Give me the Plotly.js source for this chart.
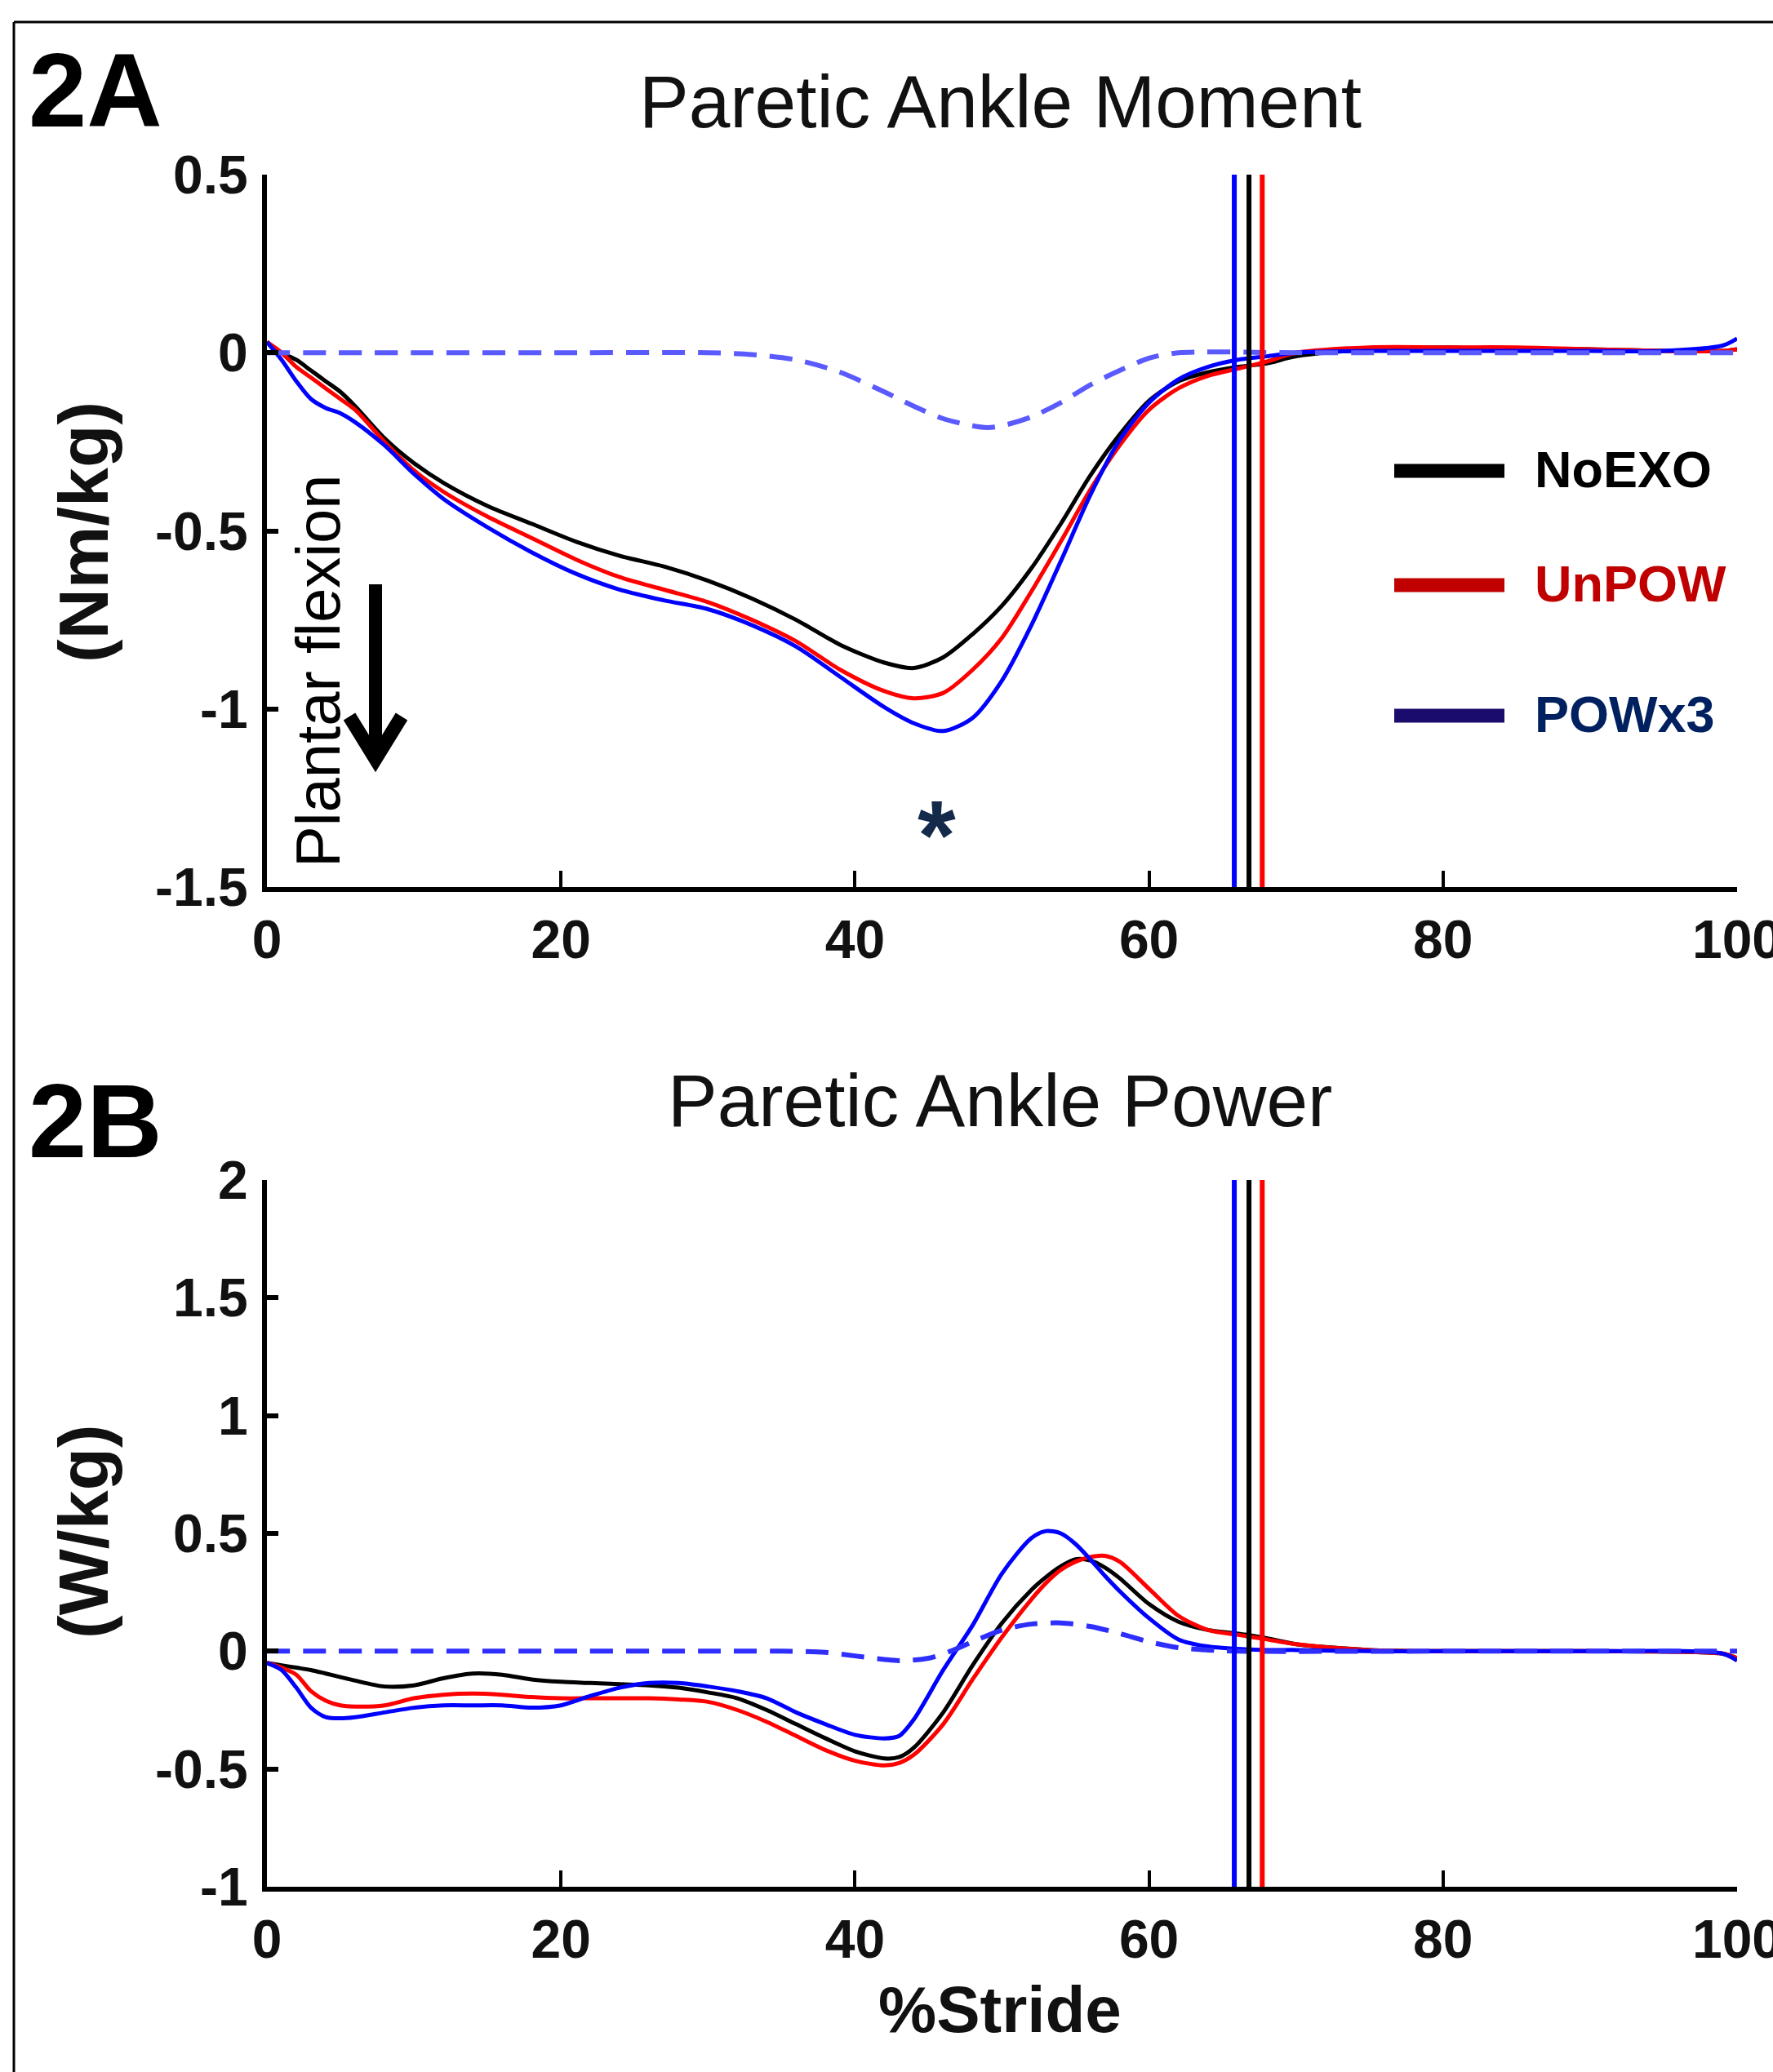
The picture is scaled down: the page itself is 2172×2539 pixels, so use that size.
<!DOCTYPE html>
<html>
<head>
<meta charset="utf-8">
<script src="https://cdn.plot.ly/plotly-3.0.1.min.js"></script>
<style>html,body{margin:0;padding:0;background:#fff;}#chart{width:2172px;height:2539px;}</style>
</head>
<body>
<div id="chart"></div>
<script>
// ---------- DATA ----------
// Panel 2A: Paretic ankle moment (Nm/kg) vs % stride
const pctMoment = [0, 1, 2, 3, 4, 5, 6, 8, 10, 12, 15, 18, 21, 24, 27, 30, 33, 36, 39, 42, 44, 46, 48, 50, 52, 54, 56, 58, 60, 62, 64, 66, 68, 70, 75, 80, 85, 90, 95, 99, 100];
const momentNoEXO = [0.03, 0.0, -0.02, -0.05, -0.08, -0.11, -0.15, -0.24, -0.31, -0.365, -0.43, -0.48, -0.53, -0.57, -0.60, -0.64, -0.69, -0.75, -0.82, -0.87, -0.885, -0.855, -0.79, -0.71, -0.605, -0.48, -0.345, -0.23, -0.135, -0.08, -0.055, -0.04, -0.03, -0.01, 0.01, 0.015, 0.01, 0.01, 0.005, 0.005, 0.01];
const momentUnPOW = [0.03, 0.0, -0.04, -0.07, -0.10, -0.13, -0.16, -0.25, -0.33, -0.39, -0.46, -0.52, -0.58, -0.63, -0.665, -0.70, -0.75, -0.81, -0.89, -0.95, -0.97, -0.955, -0.89, -0.80, -0.67, -0.53, -0.385, -0.26, -0.16, -0.10, -0.065, -0.045, -0.025, 0.0, 0.015, 0.015, 0.015, 0.01, 0.005, 0.005, 0.01];
const momentPOWx3 = [0.03, -0.02, -0.08, -0.13, -0.155, -0.17, -0.195, -0.26, -0.34, -0.41, -0.49, -0.56, -0.62, -0.665, -0.695, -0.72, -0.765, -0.825, -0.91, -0.995, -1.04, -1.062, -1.025, -0.92, -0.765, -0.585, -0.40, -0.245, -0.14, -0.075, -0.04, -0.02, -0.01, 0.0, 0.005, 0.005, 0.005, 0.005, 0.005, 0.02, 0.04];
const pctExoMoment = [0, 10, 20, 30, 33, 36, 39, 42, 44, 46, 48, 49, 50, 52, 54, 56, 58, 60, 62, 70, 80, 90, 100];
const exoMomentPOWx3 = [0.0, 0.0, 0.0, 0.0, -0.005, -0.02, -0.055, -0.11, -0.15, -0.185, -0.205, -0.21, -0.205, -0.18, -0.14, -0.09, -0.05, -0.015, 0.0, 0.0, 0.0, 0.0, 0.0];

// Panel 2B: Paretic ankle power (W/kg) vs % stride
const pctPower = [0, 1, 2, 3, 4, 5, 6, 8, 10, 12, 14, 16, 18, 20, 22, 24, 26, 28, 30, 32, 34, 36, 38, 40, 42, 43, 44, 46, 48, 50, 52, 53, 54, 55, 56, 57, 58, 60, 62, 64, 66, 68, 70, 75, 80, 90, 99, 100];
const powerNoEXO = [-0.05, -0.06, -0.07, -0.08, -0.095, -0.11, -0.125, -0.15, -0.145, -0.115, -0.095, -0.10, -0.12, -0.13, -0.135, -0.14, -0.145, -0.155, -0.175, -0.20, -0.25, -0.31, -0.37, -0.425, -0.455, -0.45, -0.41, -0.26, -0.06, 0.12, 0.26, 0.315, 0.36, 0.39, 0.385, 0.355, 0.31, 0.20, 0.125, 0.09, 0.075, 0.055, 0.03, 0.005, 0.0, 0.0, -0.01, -0.03];
const powerUnPOW = [-0.05, -0.07, -0.10, -0.17, -0.21, -0.23, -0.235, -0.23, -0.20, -0.185, -0.18, -0.185, -0.195, -0.20, -0.20, -0.20, -0.20, -0.205, -0.215, -0.25, -0.30, -0.36, -0.42, -0.465, -0.485, -0.475, -0.44, -0.31, -0.12, 0.06, 0.22, 0.29, 0.345, 0.38, 0.40, 0.405, 0.38, 0.265, 0.15, 0.09, 0.07, 0.05, 0.03, 0.005, 0.0, 0.0, -0.01, -0.03];
const powerPOWx3 = [-0.05, -0.08, -0.155, -0.24, -0.28, -0.285, -0.28, -0.26, -0.24, -0.23, -0.23, -0.23, -0.24, -0.23, -0.19, -0.155, -0.135, -0.135, -0.15, -0.17, -0.20, -0.26, -0.31, -0.355, -0.37, -0.36, -0.29, -0.08, 0.11, 0.33, 0.48, 0.51, 0.50, 0.455, 0.39, 0.32, 0.255, 0.14, 0.05, 0.02, 0.01, 0.005, 0.005, 0.0, 0.0, 0.0, -0.01, -0.04];
const pctExoPower = [0, 10, 20, 30, 35, 38, 40, 42, 43, 45, 46.5, 48, 50, 52, 54, 56, 58, 60, 62, 64, 66, 80, 100];
const exoPowerPOWx3 = [0.0, 0.0, 0.0, 0.0, 0.0, -0.005, -0.02, -0.035, -0.04, -0.03, 0.0, 0.04, 0.09, 0.115, 0.12, 0.105, 0.075, 0.04, 0.015, 0.005, 0.0, 0.0, 0.0];

// Toe-off (% stride) vertical markers
const toeOffConditions = ['POWx3', 'NoEXO', 'UnPOW'];
const toeOffPct = [65.8, 66.8, 67.7];

// Legend / tick labels
const legendNames = ['NoEXO', 'UnPOW', 'POWx3'];
const xTicks = [0, 20, 40, 60, 80, 100];
const momentTicks = [0.5, 0, -0.5, -1, -1.5];
const momentTickText = ['0.5', '0', '-0.5', '-1', '-1.5'];
const powerTicks = [2, 1.5, 1, 0.5, 0, -0.5, -1];
const powerTickText = ['2', '1.5', '1', '0.5', '0', '-0.5', '-1'];

// ---------- LAYOUT HELPERS ----------
const W = 2172, H = 2539;
const px = x => x / W;
const py = y => 1 - y / H;
const FONT = 'Liberation Sans, Arial, Helvetica, sans-serif';

const lineColors = {NoEXO: '#000000', UnPOW: '#ff0000', POWx3: '#0000ff'};
const legendLineColors = ['#000000', '#c00000', '#1a0c6c'];
const legendTextColors = ['#000000', '#c00000', '#002060'];

function curve(x, y, color, xa, ya, dash, width) {
  return {
    x: x, y: y, type: 'scatter', mode: 'lines', xaxis: xa, yaxis: ya,
    line: {color: color, width: width || 5, dash: dash || 'solid', shape: 'spline', smoothing: 0.8},
    showlegend: false, hoverinfo: 'skip'
  };
}

const data = [
  curve(pctMoment, momentNoEXO, lineColors.NoEXO, 'x', 'y'),
  curve(pctMoment, momentUnPOW, lineColors.UnPOW, 'x', 'y'),
  curve(pctMoment, momentPOWx3, lineColors.POWx3, 'x', 'y'),
  curve(pctExoMoment, exoMomentPOWx3, '#5a5aff', 'x', 'y', '28px,16px', 6),
  curve(pctPower, powerNoEXO, lineColors.NoEXO, 'x2', 'y2'),
  curve(pctPower, powerUnPOW, lineColors.UnPOW, 'x2', 'y2'),
  curve(pctPower, powerPOWx3, lineColors.POWx3, 'x2', 'y2'),
  curve(pctExoPower, exoPowerPOWx3, '#2e2eff', 'x2', 'y2', '28px,16px', 6)
];

const tickFont = {family: FONT, size: 66, color: '#111111', weight: 'bold'};

function xAxis(anchor) {
  return {
    domain: [px(327), px(2128)], anchor: anchor, range: [0, 100],
    tickvals: xTicks, ticktext: xTicks.map(String),
    ticks: 'inside', ticklen: 20, tickwidth: 4, tickcolor: '#000',
    showline: true, linewidth: 6, linecolor: '#000',
    showgrid: false, zeroline: false, tickfont: tickFont, ticklabelstandoff: 2,
    ticklabeloverflow: 'allow',
    fixedrange: true
  };
}
function yAxis(anchor, dom, range, vals, text) {
  return {
    domain: dom, anchor: anchor, range: range,
    tickvals: vals, ticktext: text,
    ticks: 'inside', ticklen: 14, tickwidth: 6, tickcolor: '#000',
    showline: true, linewidth: 6, linecolor: '#000',
    showgrid: false, zeroline: false, tickfont: tickFont, ticklabelstandoff: 4,
    ticklabeloverflow: 'allow',
    fixedrange: true
  };
}

const shapes = [];
// Frame (top and left border)
shapes.push({type: 'line', xref: 'paper', yref: 'paper', x0: px(17), x1: 1.01, y0: py(27), y1: py(27), line: {color: '#000', width: 3}});
shapes.push({type: 'line', xref: 'paper', yref: 'paper', x0: px(17), x1: px(17), y0: py(27), y1: -0.01, line: {color: '#000', width: 3}});
// Toe-off vertical lines (both panels)
const toeColors = ['#0000ff', '#000000', '#ff0000'];
toeOffPct.forEach((v, i) => {
  shapes.push({type: 'line', xref: 'x', yref: 'y domain', x0: v, x1: v, y0: 0, y1: 1, line: {color: toeColors[i], width: 6}});
  shapes.push({type: 'line', xref: 'x2', yref: 'y2 domain', x0: v, x1: v, y0: 0, y1: 1, line: {color: toeColors[i], width: 6}});
});
// Legend swatches
const legendY = [577, 717, 877];
legendY.forEach((y, i) => {
  shapes.push({type: 'line', xref: 'paper', yref: 'paper', x0: px(1708), x1: px(1843), y0: py(y), y1: py(y), line: {color: legendLineColors[i], width: 17}});
});
// Plantar flexion arrow
shapes.push({type: 'line', xref: 'paper', yref: 'paper', x0: px(460), x1: px(460), y0: py(716), y1: py(915), line: {color: '#000', width: 16}});
shapes.push({type: 'path', xref: 'paper', yref: 'paper',
  path: 'M ' + px(428) + ',' + py(878) + ' L ' + px(460) + ',' + py(930) + ' L ' + px(492) + ',' + py(878),
  line: {color: '#000', width: 17}});

const annotations = [];
function ann(text, x, y, opts) {
  annotations.push(Object.assign({
    text: text, xref: 'paper', yref: 'paper', x: px(x), y: py(y),
    showarrow: false, xanchor: 'center', yanchor: 'middle',
    font: {family: FONT, size: 60, color: '#000'}
  }, opts || {}));
}
ann('2A', 33, 111, {xanchor: 'left', font: {family: FONT, size: 128, color: '#000', weight: 'bold'}});
ann('2B', 33, 1373, {xanchor: 'left', font: {family: FONT, size: 128, color: '#000', weight: 'bold'}});
ann('Paretic Ankle Moment', 1225, 124, {font: {family: FONT, size: 91, color: '#111'}});
ann('Paretic Ankle Power', 1225, 1348, {font: {family: FONT, size: 91, color: '#111'}});
ann('(Nm/kg)', 102, 652, {textangle: -90, font: {family: FONT, size: 86, color: '#111', weight: 'bold'}});
ann('(W/kg)', 102, 1877, {textangle: -90, font: {family: FONT, size: 86, color: '#111', weight: 'bold'}});
ann('%Stride', 1225, 2462, {font: {family: FONT, size: 80, color: '#111', weight: 'bold'}});
ann('Plantar flexion', 389, 822, {textangle: -90, font: {family: FONT, size: 76, color: '#000'}});
ann('*', 1147, 1023, {font: {family: FONT, size: 120, color: '#132a4a', weight: 'bold'}});
legendNames.forEach((n, i) => {
  ann(n, 1878, legendY[i] - 2, {xanchor: 'left', font: {family: FONT, size: 63, color: legendTextColors[i], weight: 'bold'}});
});

const layout = {
  width: W, height: H,
  margin: {l: 0, r: 0, t: 0, b: 0, pad: 0},
  paper_bgcolor: '#ffffff', plot_bgcolor: '#ffffff',
  showlegend: false,
  xaxis: xAxis('y'),
  yaxis: yAxis('x', [py(1087), py(214)], [-1.5, 0.5], momentTicks, momentTickText),
  xaxis2: xAxis('y2'),
  yaxis2: yAxis('x2', [py(2312), py(1446)], [-1, 2], powerTicks, powerTickText),
  shapes: shapes,
  annotations: annotations
};

Plotly.newPlot('chart', data, layout, {staticPlot: true, displayModeBar: false});
</script>
</body>
</html>
